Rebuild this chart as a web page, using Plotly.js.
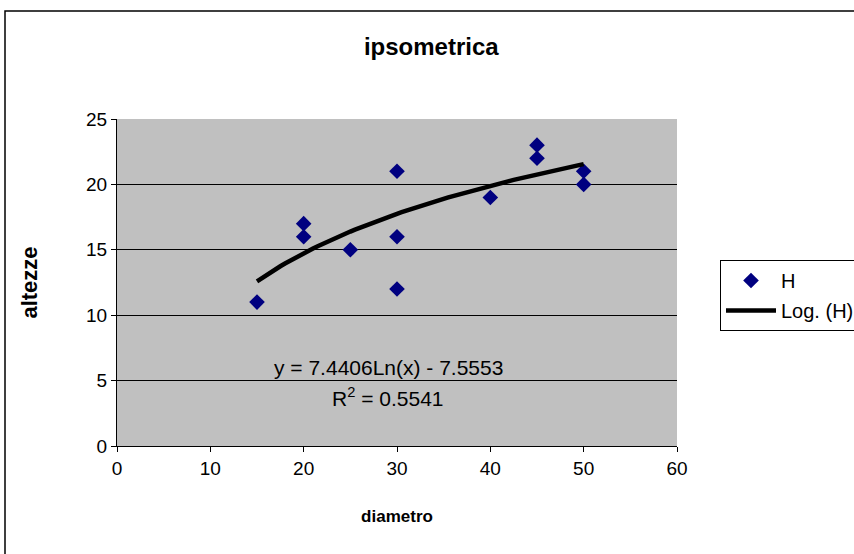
<!DOCTYPE html>
<html>
<head>
<meta charset="utf-8">
<script src="https://cdn.plot.ly/plotly-3.0.1.min.js"></script>
<style>html,body{margin:0;padding:0;background:#fff;}#chart{width:854px;height:554px;}</style>
</head>
<body>
<div id="chart"></div>
<script>
// Data
const diametro = [15, 20, 20, 25, 30, 30, 30, 40, 45, 45, 50, 50];
const altezze  = [11, 17, 16, 15, 21, 16, 12, 19, 23, 22, 21, 20];
// Logarithmic trendline coefficients as printed on the chart
const slope = 7.4406;
const intercept = -7.5553;
const r2 = 0.5541;
const xTicks = [0, 10, 20, 30, 40, 50, 60];
const yTicks = [0, 5, 10, 15, 20, 25];

// trendline curve from the printed equation, over the data range
const xMin = Math.min(...diametro), xMax = Math.max(...diametro);
const trendX = [], trendY = [];
for (let i = 0; i <= 70; i++) {
  const x = xMin + (xMax - xMin) * i / 70;
  trendX.push(x);
  trendY.push(slope * Math.log(x) + intercept);
}

const font = 'Arial, "Liberation Sans", sans-serif';

const traces = [
  {
    x: diametro, y: altezze, type: 'scatter', mode: 'markers', name: 'H',
    legendgroup: 'a',
    marker: {symbol: 'diamond', size: 12, color: '#000080'}
  },
  {
    x: trendX, y: trendY, type: 'scatter', mode: 'lines', name: 'Log. (H)',
    legendgroup: 'b',
    line: {color: '#000000', width: 4.5}
  }
];

const layout = {
  width: 854, height: 554,
  margin: {l: 117, r: 177, t: 119, b: 108, autoexpand: false},
  paper_bgcolor: '#ffffff',
  plot_bgcolor: '#c0c0c0',
  showlegend: true,
  title: {text: '<b>ipsometrica</b>', font: {family: font, size: 24, color: '#000'},
          x: 0.505, xref: 'container', y: 1 - 47/554, yref: 'container', yanchor: 'middle'},
  xaxis: {
    range: [0, 60], tickvals: xTicks, ticktext: xTicks.map(String),
    ticks: 'outside', ticklen: 5, tickcolor: '#000', showgrid: false, zeroline: false,
    showline: true, linecolor: '#000', linewidth: 1, mirror: false,
    tickfont: {family: font, size: 19, color: '#000'},
    title: {text: '<b>diametro</b>', font: {family: font, size: 17, color: '#000'}, standoff: 32}
  },
  yaxis: {
    range: [0, 25], tickvals: yTicks, ticktext: yTicks.map(String),
    ticks: 'outside', ticklen: 5, tickcolor: '#000',
    showgrid: true, gridcolor: '#000', gridwidth: 1, zeroline: false,
    showline: true, linecolor: '#000', linewidth: 1,
    tickfont: {family: font, size: 19, color: '#000'},
    title: {text: '<b>altezze</b>', font: {family: font, size: 22, color: '#000'}, standoff: 42}
  },
  legend: {
    x: (720 - 117) / 560, xanchor: 'left', y: (446 - 260) / 327, yanchor: 'top',
    bgcolor: '#ffffff', bordercolor: '#000', borderwidth: 1,
    font: {family: font, size: 20, color: '#000'},
    tracegroupgap: 1, itemwidth: 50
  },
  annotations: [
    {x: 29.14, y: 6.04, xref: 'x', yref: 'y', showarrow: false,
     text: 'y = ' + slope + 'Ln(x) - ' + Math.abs(intercept),
     font: {family: font, size: 21, color: '#000'}},
    {x: 29.0, y: 3.75, xref: 'x', yref: 'y', showarrow: false,
     text: 'R<sup>2</sup> = ' + r2,
     font: {family: font, size: 21, color: '#000'}}
  ],
  shapes: [
    {type: 'rect', xref: 'paper', yref: 'paper',
     x0: (5 - 117) / 560, x1: (900 - 117) / 560,
     y0: (446 - 600) / 327, y1: (446 - 11) / 327,
     line: {color: '#000', width: 1.5}, fillcolor: 'rgba(0,0,0,0)', layer: 'below'}
  ]
};

Plotly.newPlot('chart', traces, layout, {displayModeBar: false, staticPlot: true});
</script>
</body>
</html>
